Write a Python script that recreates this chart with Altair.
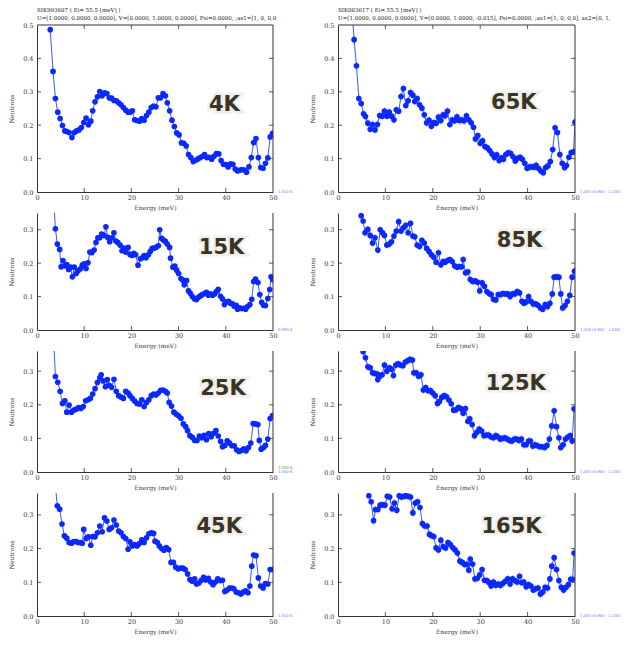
import altair as alt
import pandas as pd

# ---------------- data ----------------
E_4K = [2.8, 3.4, 3.9, 4.4, 4.9, 5.4, 5.9, 6.3, 6.8, 7.4,
        7.9, 8.4, 8.9, 9.4, 9.9, 10.4, 10.9, 11.4, 11.8, 12.3,
        12.8, 13.3, 13.8, 14.3, 14.8, 15.3, 15.8, 16.3, 16.8, 17.3,
        17.8, 18.3, 18.8, 19.3, 19.7, 20.2, 20.7, 21.2, 21.7, 22.2,
        22.7, 23.2, 23.7, 24.2, 24.7, 25.2, 25.7, 26.2, 26.7, 27.2,
        27.6, 28.1, 28.6, 29.1, 29.6, 30.1, 30.6, 31.1, 31.6, 32.1,
        32.6, 33.1, 33.6, 34.1, 34.6, 35.1, 35.5, 36.0, 36.5, 37.0,
        37.5, 38.0, 38.5, 39.0, 39.5, 40.0, 40.5, 41.0, 41.5, 42.0,
        42.5, 42.9, 43.4, 43.9, 44.4, 44.9, 45.4, 45.9, 46.4, 46.9,
        47.4, 47.9, 48.4, 48.9, 49.4, 49.9]
I_4K = [0.486, 0.361, 0.280, 0.239, 0.220, 0.199, 0.183, 0.181, 0.178, 0.163,
        0.178, 0.183, 0.186, 0.193, 0.208, 0.221, 0.201, 0.212, 0.243, 0.270,
        0.285, 0.301, 0.288, 0.297, 0.295, 0.282, 0.281, 0.274, 0.273, 0.267,
        0.261, 0.253, 0.245, 0.239, 0.239, 0.243, 0.216, 0.214, 0.212, 0.220,
        0.215, 0.229, 0.239, 0.253, 0.257, 0.255, 0.282, 0.282, 0.295, 0.288,
        0.267, 0.243, 0.215, 0.196, 0.177, 0.171, 0.147, 0.146, 0.138, 0.112,
        0.103, 0.091, 0.095, 0.099, 0.103, 0.107, 0.112, 0.103, 0.104, 0.098,
        0.107, 0.115, 0.114, 0.094, 0.083, 0.082, 0.075, 0.084, 0.083, 0.069,
        0.063, 0.065, 0.067, 0.066, 0.059, 0.075, 0.103, 0.148, 0.160, 0.103,
        0.073, 0.071, 0.086, 0.102, 0.165, 0.176]

E_65K = [2.9, 3.4, 3.9, 4.4, 4.9, 5.4, 5.8, 6.3, 6.8, 7.3,
         7.8, 8.3, 8.8, 9.3, 9.8, 10.3, 10.8, 11.3, 11.8, 12.3,
         12.8, 13.3, 13.8, 14.3, 14.8, 15.3, 15.8, 16.2, 16.7, 17.2,
         17.7, 18.2, 18.7, 19.2, 19.7, 20.2, 20.7, 21.2, 21.7, 22.2,
         22.6, 23.1, 23.6, 24.1, 24.6, 25.1, 25.6, 26.1, 26.6, 27.1,
         27.6, 28.1, 28.6, 29.0, 29.5, 30.0, 30.5, 31.0, 31.5, 32.0,
         32.5, 33.0, 33.5, 34.0, 34.5, 34.9, 35.4, 35.9, 36.4, 36.9,
         37.4, 37.9, 38.4, 38.9, 39.4, 39.9, 40.4, 40.9, 41.4, 41.8,
         42.3, 42.8, 43.3, 43.8, 44.3, 44.8, 45.3, 45.8, 46.3, 46.8,
         47.3, 47.8, 48.2, 48.7, 49.2, 49.7, 50.0]
I_65K = [0.560, 0.456, 0.378, 0.280, 0.265, 0.234, 0.226, 0.206, 0.188, 0.202,
         0.186, 0.202, 0.229, 0.227, 0.242, 0.227, 0.239, 0.227, 0.216, 0.246,
         0.242, 0.286, 0.310, 0.259, 0.273, 0.298, 0.290, 0.271, 0.280, 0.261,
         0.251, 0.231, 0.207, 0.215, 0.197, 0.208, 0.206, 0.224, 0.214, 0.231,
         0.228, 0.242, 0.202, 0.216, 0.213, 0.225, 0.214, 0.216, 0.213, 0.228,
         0.216, 0.207, 0.194, 0.159, 0.169, 0.146, 0.153, 0.136, 0.132, 0.124,
         0.114, 0.103, 0.111, 0.094, 0.102, 0.098, 0.112, 0.117, 0.116, 0.106,
         0.093, 0.101, 0.104, 0.098, 0.086, 0.071, 0.075, 0.075, 0.074, 0.080,
         0.071, 0.063, 0.058, 0.073, 0.078, 0.091, 0.127, 0.192, 0.178, 0.112,
         0.086, 0.073, 0.079, 0.104, 0.118, 0.120, 0.209]

E_15K = [3.5, 3.9, 4.3, 4.8, 5.1, 5.5, 5.9, 6.3, 6.7, 7.1,
         7.5, 7.9, 8.3, 8.7, 9.2, 9.6, 10.0, 10.4, 10.8, 11.2,
         11.6, 12.1, 12.5, 12.9, 13.3, 13.7, 14.2, 14.6, 15.0, 15.4,
         15.9, 16.3, 16.7, 17.1, 17.6, 18.0, 18.4, 18.8, 19.3, 19.7,
         20.1, 20.5, 20.9, 21.4, 21.9, 22.3, 22.7, 23.1, 23.6, 24.0,
         24.4, 24.8, 25.2, 25.7, 26.0, 26.4, 26.8, 27.2, 27.6, 28.1,
         28.3, 28.8, 29.2, 29.6, 30.0, 30.5, 30.9, 31.2, 31.7, 32.1,
         32.5, 32.9, 33.4, 33.8, 34.2, 34.6, 35.0, 35.5, 35.9, 36.3,
         36.7, 37.2, 37.6, 38.0, 38.4, 38.9, 39.3, 39.7, 40.1, 40.6,
         41.0, 41.4, 41.8, 42.2, 42.5, 42.9, 43.4, 43.8, 44.2, 44.6,
         45.1, 45.5, 45.9, 46.3, 46.8, 47.2, 47.6, 48.0, 48.4, 48.9,
         49.3, 49.6, 50.0]
I_15K = [0.400, 0.303, 0.257, 0.241, 0.189, 0.208, 0.192, 0.196, 0.181, 0.188,
         0.159, 0.188, 0.169, 0.177, 0.183, 0.194, 0.198, 0.184, 0.201, 0.233,
         0.231, 0.239, 0.262, 0.276, 0.276, 0.287, 0.283, 0.309, 0.277, 0.264,
         0.276, 0.291, 0.266, 0.262, 0.254, 0.237, 0.245, 0.233, 0.247, 0.226,
         0.223, 0.229, 0.225, 0.194, 0.213, 0.216, 0.223, 0.216, 0.225, 0.235,
         0.244, 0.245, 0.247, 0.252, 0.300, 0.274, 0.269, 0.265, 0.257, 0.247,
         0.215, 0.188, 0.191, 0.179, 0.169, 0.154, 0.149, 0.135, 0.148, 0.117,
         0.110, 0.100, 0.093, 0.091, 0.098, 0.102, 0.106, 0.109, 0.113, 0.104,
         0.108, 0.104, 0.108, 0.115, 0.122, 0.101, 0.093, 0.076, 0.084, 0.086,
         0.080, 0.078, 0.071, 0.074, 0.062, 0.066, 0.064, 0.065, 0.062, 0.070,
         0.076, 0.092, 0.145, 0.152, 0.142, 0.106, 0.083, 0.074, 0.073, 0.094,
         0.121, 0.159, 0.150]

E_85K = [4.5, 4.9, 5.3, 5.7, 6.3, 6.8, 7.3, 7.8, 8.4, 8.9,
         9.4, 9.8, 10.3, 10.8, 11.3, 11.8, 12.3, 12.8, 13.3, 13.8,
         14.3, 14.8, 15.3, 15.8, 16.2, 16.7, 17.2, 17.7, 18.2, 18.7,
         19.2, 19.7, 20.2, 20.7, 21.2, 21.7, 22.2, 22.6, 23.1, 23.6,
         24.1, 24.6, 25.1, 25.6, 26.1, 26.4, 26.9, 27.4, 27.9, 28.4,
         28.9, 29.4, 29.9, 30.4, 30.9, 31.4, 31.9, 32.3, 32.8, 33.3,
         33.8, 34.3, 34.8, 35.3, 35.8, 36.3, 36.8, 37.3, 37.8, 38.3,
         38.8, 39.2, 39.7, 40.2, 40.7, 41.2, 41.7, 42.2, 42.7, 43.2,
         43.7, 44.2, 44.7, 45.2, 45.6, 46.1, 46.6, 47.0, 47.4, 47.9,
         48.4, 48.9, 49.4, 49.9]
I_85K = [0.380, 0.342, 0.326, 0.291, 0.301, 0.283, 0.260, 0.276, 0.239, 0.300,
         0.291, 0.283, 0.254, 0.257, 0.264, 0.281, 0.296, 0.324, 0.296, 0.306,
         0.313, 0.291, 0.319, 0.281, 0.279, 0.254, 0.250, 0.268, 0.260, 0.244,
         0.235, 0.225, 0.218, 0.203, 0.231, 0.195, 0.205, 0.203, 0.208, 0.211,
         0.205, 0.192, 0.188, 0.190, 0.189, 0.211, 0.171, 0.174, 0.151, 0.145,
         0.147, 0.143, 0.117, 0.141, 0.131, 0.115, 0.109, 0.106, 0.092, 0.090,
         0.106, 0.106, 0.109, 0.108, 0.108, 0.100, 0.108, 0.108, 0.115, 0.111,
         0.086, 0.080, 0.084, 0.100, 0.086, 0.078, 0.078, 0.074, 0.066, 0.062,
         0.076, 0.070, 0.080, 0.108, 0.158, 0.159, 0.158, 0.108, 0.066, 0.073,
         0.086, 0.104, 0.158, 0.176]

E_25K = [3.5, 3.9, 4.4, 4.9, 5.4, 5.9, 6.3, 6.8, 7.3, 7.8,
         8.3, 8.8, 9.3, 9.8, 10.3, 10.8, 11.3, 11.8, 12.3, 12.8,
         13.3, 13.6, 14.0, 14.5, 14.9, 15.3, 15.8, 16.3, 16.8, 17.3,
         17.8, 18.3, 18.8, 19.3, 19.7, 20.2, 20.7, 21.2, 21.7, 22.2,
         22.7, 23.2, 23.7, 24.2, 24.7, 25.2, 25.7, 26.2, 26.7, 27.2,
         27.6, 28.0, 28.5, 29.0, 29.5, 30.0, 30.5, 31.0, 31.5, 31.9,
         32.4, 32.9, 33.4, 33.9, 34.4, 34.9, 35.4, 35.9, 36.4, 36.9,
         37.4, 37.9, 38.4, 38.9, 39.3, 39.8, 40.3, 40.8, 41.3, 41.8,
         42.3, 42.8, 43.3, 43.8, 44.3, 44.8, 45.3, 45.8, 46.3, 46.8,
         47.1, 47.5, 48.0, 48.4, 48.9, 49.4, 49.9]
I_25K = [0.400, 0.284, 0.267, 0.240, 0.204, 0.212, 0.178, 0.199, 0.178, 0.184,
         0.187, 0.192, 0.189, 0.195, 0.212, 0.215, 0.219, 0.232, 0.248, 0.266,
         0.280, 0.289, 0.271, 0.254, 0.275, 0.258, 0.252, 0.276, 0.240, 0.227,
         0.223, 0.219, 0.240, 0.235, 0.227, 0.219, 0.211, 0.204, 0.202, 0.215,
         0.195, 0.207, 0.215, 0.227, 0.232, 0.229, 0.235, 0.243, 0.244, 0.240,
         0.235, 0.207, 0.196, 0.178, 0.172, 0.167, 0.160, 0.143, 0.135, 0.123,
         0.108, 0.103, 0.094, 0.094, 0.107, 0.102, 0.109, 0.096, 0.114, 0.105,
         0.115, 0.123, 0.107, 0.091, 0.075, 0.079, 0.093, 0.086, 0.078, 0.078,
         0.066, 0.061, 0.064, 0.069, 0.063, 0.073, 0.086, 0.144, 0.143, 0.141,
         0.094, 0.068, 0.073, 0.079, 0.098, 0.159, 0.168]

E_125K = [4.9, 5.3, 5.8, 6.3, 6.8, 7.3, 7.8, 8.3, 8.4, 8.8,
          9.3, 9.8, 10.3, 10.8, 11.3, 11.7, 12.2, 12.7, 13.2, 13.7,
          14.2, 14.7, 15.2, 15.7, 16.0, 16.5, 17.0, 17.5, 18.0, 18.5,
          19.0, 19.5, 20.0, 20.5, 21.0, 21.4, 21.9, 22.4, 22.9, 23.4,
          23.9, 24.4, 24.9, 25.4, 25.9, 26.4, 26.9, 27.4, 27.8, 28.3,
          28.8, 29.3, 29.8, 30.3, 30.8, 31.3, 31.8, 32.3, 32.8, 33.3,
          33.8, 34.2, 34.7, 35.2, 35.7, 36.2, 36.7, 37.2, 37.7, 38.2,
          38.7, 39.2, 39.7, 40.2, 40.6, 41.1, 41.6, 42.1, 42.6, 43.1,
          43.6, 44.1, 44.6, 45.1, 45.6, 46.1, 46.6, 47.0, 47.5, 48.0,
          48.5, 49.0, 49.4, 49.8]
I_125K = [0.390, 0.358, 0.340, 0.313, 0.310, 0.295, 0.293, 0.291, 0.275, 0.285,
          0.289, 0.318, 0.300, 0.310, 0.306, 0.287, 0.318, 0.322, 0.318, 0.316,
          0.327, 0.331, 0.335, 0.333, 0.295, 0.295, 0.285, 0.289, 0.244, 0.251,
          0.242, 0.242, 0.235, 0.227, 0.204, 0.210, 0.222, 0.227, 0.224, 0.214,
          0.203, 0.184, 0.185, 0.192, 0.189, 0.175, 0.189, 0.151, 0.158, 0.141,
          0.108, 0.118, 0.128, 0.122, 0.108, 0.110, 0.110, 0.104, 0.102, 0.108,
          0.104, 0.098, 0.100, 0.102, 0.098, 0.094, 0.092, 0.098, 0.098, 0.094,
          0.098, 0.081, 0.081, 0.092, 0.092, 0.077, 0.081, 0.078, 0.075, 0.075,
          0.073, 0.079, 0.098, 0.137, 0.182, 0.135, 0.102, 0.073, 0.081, 0.098,
          0.104, 0.108, 0.092, 0.188]

E_45K = [3.8, 4.3, 4.8, 5.3, 5.8, 6.3, 6.8, 7.3, 7.8, 8.3,
         8.7, 9.2, 9.6, 9.9, 10.4, 10.9, 11.4, 11.8, 12.3, 12.8,
         13.3, 13.8, 14.3, 14.8, 15.3, 15.8, 16.3, 16.8, 17.3, 17.8,
         18.3, 18.8, 19.3, 19.7, 20.2, 20.7, 21.2, 21.7, 22.2, 22.7,
         23.2, 23.7, 24.2, 24.7, 25.0, 25.5, 25.9, 26.4, 26.9, 27.4,
         27.9, 28.4, 28.9, 29.4, 29.9, 30.4, 30.9, 31.4, 31.9, 32.4,
         32.9, 33.4, 33.8, 34.3, 34.8, 35.3, 35.8, 36.3, 36.8, 37.3,
         37.8, 38.3, 38.8, 39.3, 39.8, 40.3, 40.8, 41.3, 41.7, 42.2,
         42.7, 43.2, 43.7, 44.2, 44.7, 45.1, 45.5, 45.9, 46.4, 46.9,
         47.4, 47.9, 48.4, 48.9, 49.4, 49.9]
I_45K = [0.400, 0.327, 0.317, 0.273, 0.238, 0.231, 0.218, 0.216, 0.221, 0.221,
         0.218, 0.218, 0.216, 0.257, 0.230, 0.235, 0.210, 0.236, 0.235, 0.247,
         0.267, 0.250, 0.291, 0.282, 0.257, 0.262, 0.285, 0.270, 0.252, 0.247,
         0.236, 0.230, 0.198, 0.220, 0.208, 0.212, 0.208, 0.215, 0.226, 0.218,
         0.232, 0.244, 0.247, 0.245, 0.222, 0.218, 0.208, 0.200, 0.195, 0.203,
         0.197, 0.159, 0.159, 0.145, 0.140, 0.142, 0.142, 0.138, 0.125, 0.108,
         0.103, 0.110, 0.095, 0.098, 0.106, 0.115, 0.107, 0.112, 0.101, 0.093,
         0.101, 0.110, 0.105, 0.106, 0.073, 0.077, 0.083, 0.083, 0.081, 0.071,
         0.069, 0.065, 0.071, 0.075, 0.069, 0.089, 0.148, 0.181, 0.179, 0.113,
         0.089, 0.083, 0.096, 0.095, 0.138, 0.138]

E_165K = [6.5, 7.0, 7.5, 7.9, 8.4, 8.9, 9.4, 9.9, 10.4, 10.9,
          11.4, 11.9, 12.4, 12.9, 13.4, 13.9, 14.3, 14.8, 15.3, 15.8,
          16.3, 16.8, 17.3, 17.8, 18.3, 18.8, 19.3, 19.7, 20.2, 20.7,
          21.2, 21.7, 22.2, 22.7, 23.2, 23.7, 24.2, 24.7, 25.2, 25.7,
          26.2, 26.7, 27.2, 27.6, 27.9, 28.4, 28.9, 29.4, 29.9, 30.4,
          30.9, 31.4, 31.9, 32.3, 32.8, 33.3, 33.8, 34.3, 34.8, 35.3,
          35.8, 36.3, 36.8, 37.3, 37.8, 38.3, 38.8, 39.2, 39.7, 40.2,
          40.7, 41.2, 41.7, 42.2, 42.7, 43.2, 43.7, 44.2, 44.7, 45.1,
          45.6, 46.1, 46.6, 47.1, 47.6, 48.1, 48.6, 49.1, 49.5, 49.8]
I_165K = [0.357, 0.339, 0.283, 0.316, 0.316, 0.329, 0.330, 0.329, 0.355, 0.353,
          0.318, 0.335, 0.314, 0.357, 0.353, 0.355, 0.357, 0.355, 0.353, 0.306,
          0.335, 0.339, 0.322, 0.274, 0.267, 0.267, 0.242, 0.239, 0.236, 0.202,
          0.196, 0.225, 0.206, 0.202, 0.218, 0.212, 0.203, 0.196, 0.187, 0.163,
          0.159, 0.153, 0.153, 0.136, 0.169, 0.154, 0.110, 0.112, 0.122, 0.138,
          0.106, 0.105, 0.099, 0.089, 0.101, 0.091, 0.095, 0.091, 0.097, 0.103,
          0.110, 0.095, 0.110, 0.105, 0.101, 0.118, 0.099, 0.101, 0.087, 0.093,
          0.089, 0.077, 0.081, 0.083, 0.065, 0.071, 0.085, 0.083, 0.110, 0.148,
          0.173, 0.138, 0.105, 0.085, 0.077, 0.085, 0.093, 0.109, 0.109, 0.187]

# error-bar half widths
ERR = {"4K": 0.004, "65K": 0.012, "15K": 0.007, "85K": 0.011,
       "25K": 0.005, "125K": 0.012, "45K": 0.008, "165K": 0.012}

X_TICKS = [0, 10, 20, 30, 40, 50]
Y_TICKS_TOP = [0.0, 0.1, 0.2, 0.3, 0.4, 0.5]
Y_TICKS = [0.0, 0.1, 0.2, 0.3]

TITLE_L = ["SIK993607 ( Ei= 55.5 [meV] )",
           "U=[1.0000, 0.0000, 0.0000], V=[0.0000, 1.0000, 0.0000], Psi=0.0000, ;as1=[1, 0, 0,0"]
TITLE_R = ["SIK003617 ( Ei= 55.5 [meV] )",
           "U=[1.0000, 0.0000, 0.0000], V=[0.0000, 1.0000, -0.015], Psi=0.0000, ;ax1=[1, 0, 0,0], ax2=[0, 1,"]

NOTE_L = "1.000 K"
NOTE_L15 = "0.990 K"
NOTE_R = "1.000 (0.900 - 1.100)"
NOTE_R85 = "1.000 (0.900 - 1.000)"

# ---------------- styling ----------------
FONT = "DejaVu Serif"
PT = "#0a28ff"
LN = "#3a58ff"
EB = "#8a9cff"
FRAME = "#333333"
LBL = "#3a3427"

WL, WR = 236, 237

# panel layout: name, E, I, ymax, width, height, label position (E, I), notes, title
PANELS = [
    ("4K", E_4K, I_4K, 0.5, WL, 167, (39.7, 0.260), [NOTE_L], TITLE_L),
    ("65K", E_65K, I_65K, 0.5, WR, 167, (37.1, 0.266), [NOTE_R], TITLE_R),
    ("15K", E_15K, I_15K, 0.35, WL, 117, (39.1, 0.244), [NOTE_L15], None),
    ("85K", E_85K, I_85K, 0.35, WR, 117, (38.3, 0.267), [NOTE_R85], None),
    ("25K", E_25K, I_25K, 0.36, WL, 121, (39.4, 0.246), [NOTE_L, NOTE_L], None),
    ("125K", E_125K, I_125K, 0.36, WR, 121, (37.5, 0.261), [NOTE_R], None),
    ("45K", E_45K, I_45K, 0.365, WL, 123, (38.6, 0.264), [NOTE_L], None),
    ("165K", E_165K, I_165K, 0.365, WR, 123, (36.6, 0.264), [NOTE_R], None),
]

one = pd.DataFrame({"k": [0]})


def make_panel(name, E, I, ymax, W, H, lpos, notes, title):
    n = min(len(E), len(I))
    df = pd.DataFrame({"E": E[:n], "I": I[:n]})
    df["lo"] = df["I"] - ERR[name]
    df["hi"] = df["I"] + ERR[name]

    xs = alt.Scale(domain=[0, 50], nice=False, zero=False)
    ys = alt.Scale(domain=[0, ymax], nice=False, zero=False)
    yvals = Y_TICKS_TOP if ymax >= 0.5 else Y_TICKS
    xax = alt.Axis(values=X_TICKS, format="d", title="Energy (meV)", ticks=False,
                   labelPadding=2.5, titlePadding=3, labelFlush=False, grid=False)
    yax = alt.Axis(values=yvals, format=".1f", title="Neutrons", ticks=False,
                   labelPadding=4, titlePadding=8, grid=False, labelFlush=False)

    X = alt.X("E:Q", scale=xs, axis=xax)
    Y = alt.Y("I:Q", scale=ys, axis=yax)
    base = alt.Chart(df)
    err = base.mark_rule(color=EB, strokeWidth=0.8, clip=True).encode(
        x=X, y=alt.Y("lo:Q", scale=ys, axis=yax), y2="hi:Q")
    line = base.mark_line(color=LN, strokeWidth=1, clip=True).encode(x=X, y=Y)
    pts = base.mark_circle(color=PT, size=32, opacity=1, clip=True).encode(x=X, y=Y)

    # inward ticks (matplotlib style) on left/right and bottom(/top)
    ytk = pd.DataFrame({"I": [v for v in yvals if 0 < v < ymax]})
    xtk = pd.DataFrame({"E": [v for v in X_TICKS if 0 < v < 50]})
    tl = alt.Chart(ytk).mark_rule(color=FRAME, strokeWidth=0.8).encode(
        y=Y, x=alt.value(0), x2=alt.value(4))
    tr = alt.Chart(ytk).mark_rule(color=FRAME, strokeWidth=0.8).encode(
        y=Y, x=alt.value(W - 4), x2=alt.value(W))
    tb = alt.Chart(xtk).mark_rule(color=FRAME, strokeWidth=0.8).encode(
        x=X, y=alt.value(H - 4), y2=alt.value(H))
    right = alt.Chart(one).mark_rule(color=FRAME, strokeWidth=1).encode(
        x=alt.value(W), y=alt.value(0), y2=alt.value(H))

    lab_df = pd.DataFrame({"E": [lpos[0]], "I": [lpos[1]]})
    glow = alt.Chart(lab_df).mark_text(
        text=name, font="DejaVu Sans", fontWeight="bold", fontSize=21,
        color="#d9d2c3", stroke="#d9d2c3", strokeWidth=5, opacity=0.35,
        align="center", baseline="middle").encode(x=X, y=Y)
    label = alt.Chart(lab_df).mark_text(
        text=name, font="DejaVu Sans", fontWeight="bold", fontSize=21,
        color=LBL, align="center", baseline="middle").encode(x=X, y=Y)

    layers = [err, line, pts, tl, tr, tb, right, glow, label]

    if len(notes) == 2:
        note_cols = ["#3aa03a", "#6677ff"]
        note_y = [H - 4, H]
    else:
        note_cols = ["#6677ff"]
        note_y = [H]
    for txt, col, yy in zip(notes, note_cols, note_y):
        layers.append(alt.Chart(one).mark_text(
            text=txt, font="DejaVu Sans", fontSize=3.8, color=col,
            align="left", baseline="middle").encode(
            x=alt.value(W + 5), y=alt.value(yy)))

    if title is not None:
        top = alt.Chart(one).mark_rule(color=FRAME, strokeWidth=1).encode(
            x=alt.value(0), x2=alt.value(W), y=alt.value(0))
        tt = alt.Chart(xtk).mark_rule(color=FRAME, strokeWidth=0.8).encode(
            x=X, y=alt.value(0), y2=alt.value(4))
        layers += [top, tt]

    ch = alt.layer(*layers).properties(width=W, height=H)
    if title is not None:
        ch = ch.properties(title=alt.TitleParams(
            text=title, anchor="start", frame="group", fontSize=5.5,
            lineHeight=7.5, font=FONT, fontWeight="normal", color="#222222",
            offset=1))
    return ch


panels = [make_panel(*p) for p in PANELS]

chart = alt.concat(*panels, columns=2, spacing={"row": 21, "column": 65}).properties(
    bounds="flush", padding={"left": 0, "top": 0, "right": 0, "bottom": 5}
).configure_view(stroke=None).configure_axis(
    labelFont=FONT, titleFont=FONT, labelFontSize=6.5, titleFontSize=6,
    labelColor="#333333", titleColor="#333333", titleFontWeight="normal",
    domainColor=FRAME, domainWidth=1
)

chart.save("out.html", embed_options={"renderer": "svg", "actions": False})
